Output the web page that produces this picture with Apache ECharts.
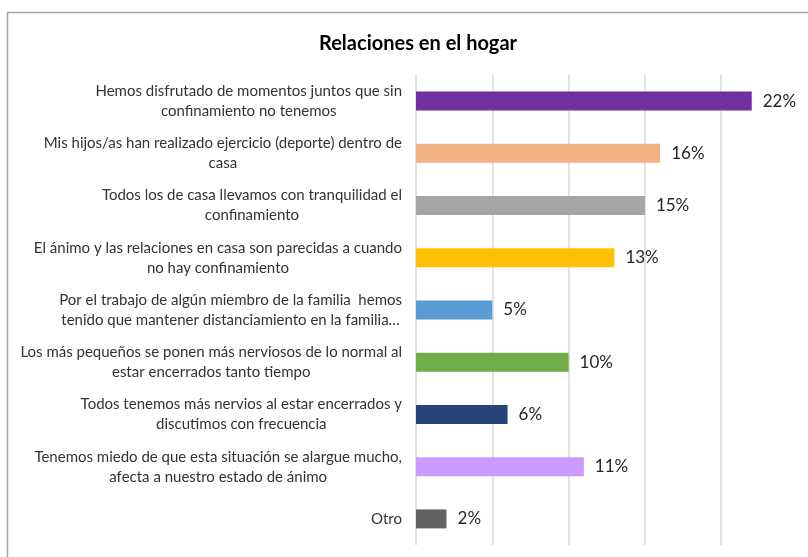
<!DOCTYPE html>
<html>
<head>
<meta charset="utf-8">
<script src="https://cdn.jsdelivr.net/npm/echarts@6/dist/echarts.min.js"></script>
<style>
  html, body { margin: 0; padding: 0; background: #fff; }
  #chart { width: 808px; height: 557px; }
</style>
</head>
<body>
<div id="chart"></div>
<script>
// categories (top to bottom), as wrapped in the original
const categories = [
  'Hemos disfrutado de momentos juntos que sin\nconfinamiento no tenemos',
  'Mis hijos/as han realizado ejercicio (deporte) dentro de\ncasa',
  'Todos los de casa llevamos con tranquilidad el\nconfinamiento',
  'El ánimo y las relaciones en casa son parecidas a cuando\nno hay confinamiento',
  'Por el trabajo de algún miembro de la familia  hemos\ntenido que mantener distanciamiento en la familia…',
  'Los más pequeños se ponen más nerviosos de lo normal al\nestar encerrados tanto tiempo',
  'Todos tenemos más nervios al estar encerrados y\ndiscutimos con frecuencia',
  'Tenemos miedo de que esta situación se alargue mucho,\nafecta a nuestro estado de ánimo',
  'Otro'
]
// percentages
const values = [22, 16, 15, 13, 5, 10, 6, 11, 2]
const barColors = ['#7030A0', '#F4B183', '#A5A5A5', '#FFC000', '#5B9BD5', '#70AD47', '#264478', '#CC99FF', '#636363']

const chart = echarts.init(document.getElementById('chart'))

const option = {
  backgroundColor: '#fff',
  graphic: [
    {
      // outer frame of the chart area (cropped on the right and bottom)
      type: 'rect',
      shape: { x: 7.5, y: 12.5, width: 900, height: 700 },
      style: { fill: 'none', stroke: '#A6A6A6', lineWidth: 1.5 },
      silent: true
    }
  ],
  title: {
    text: 'Relaciones en el hogar',
    left: 413,
    textAlign: 'center',
    top: 29,
    textStyle: {
      fontFamily: 'Lato',
      fontSize: 20,
      fontWeight: 'bold',
      color: '#000'
    }
  },
  grid: {
    left: 416,
    right: 10.5,
    top: 75,
    bottom: 12,
    containLabel: false
  },
  xAxis: {
    type: 'value',
    min: 0,
    max: 25,
    interval: 5,
    axisLabel: { show: false },
    axisLine: { show: false },
    axisTick: { show: false },
    splitLine: {
      show: true,
      showMaxLine: false,
      lineStyle: { color: '#D9D9D9', width: 1.5 }
    }
  },
  yAxis: {
    type: 'category',
    inverse: true,
    data: categories,
    axisLine: { show: false },
    axisTick: { show: false },
    axisLabel: {
      margin: 14,
      formatter: value => value.split('\n').map(line => '{c|' + line + '}').join('\n'),
      rich: {
        c: {
          align: 'center',
          fontFamily: 'Lato',
          fontSize: 15,
          lineHeight: 20,
          color: '#333333'
        }
      }
    }
  },
  series: [
    {
      type: 'bar',
      data: values.map((v, i) => ({ value: v, itemStyle: { color: barColors[i] } })),
      barWidth: 19,
      label: {
        show: true,
        position: 'right',
        distance: 11,
        formatter: '{c}%',
        fontFamily: 'Lato',
        fontSize: 17,
        color: '#262626'
      }
    }
  ]
}

chart.setOption(option)
</script>
</body>
</html>
